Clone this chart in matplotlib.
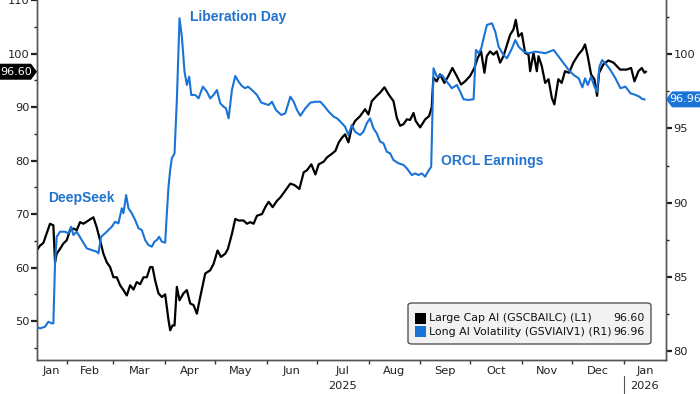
import numpy as np
import matplotlib
matplotlib.use('Agg')
import matplotlib.pyplot as plt
from matplotlib.patches import Polygon, FancyBboxPatch, Rectangle
from matplotlib.transforms import IdentityTransform

plt.rcParams['font.family'] = ['DejaVu Sans']

# ---------------- data (x = days since 2025-01-01) ----------------
lc_days = [13.1, 15.1, 17.1, 19.1, 21.1, 23.1, 24.1, 25.1, 27.1, 29.1, 31.1, 33.1, 35.1, 37.1,
           39.1, 41.1, 44.1, 47.1, 49.1, 51.1, 53.1, 55.1, 57.1, 59.1, 61.1, 63.1, 65.1, 67.1,
           69.1, 71.1, 73.1, 75.1, 77.1, 79.1, 81.1, 82.5, 84.1, 86.1, 88.1, 90.1, 92.1, 93.1,
           94.5, 95.7, 97.1, 98.7, 101.1, 103.1, 105.1, 107.1, 109.1, 111.1, 114.1, 117.1,
           119.1, 121.5, 123.5, 126.1, 127.7, 130.1, 132.1, 134.1, 137.1, 139.1, 141.1, 143.1,
           145.1, 148.1, 150.1, 152.1, 154.5, 157.1, 159.1, 162.1, 165.1, 167.7, 170.5, 173.1,
           175.1, 177.7, 180.1, 182.1, 185.1, 187.1, 189.7, 192.1, 194.1, 196.1,
           197.9, 199.9, 201.9, 203.9, 206.9, 209.9, 211.9, 213.9, 216.9, 218.9, 221.5, 223.9,
           226.9, 228.9, 230.9, 232.9, 234.9, 236.9, 238.9, 240.2, 242.9, 245.9, 248.2, 249.8,
           250.8, 252.8, 254.8, 257.4, 259.8, 262.2, 264.8, 267.4, 269.8, 272.8, 275.4, 277.4,
           279.4, 281.4, 282.8, 284.8, 286.8, 288.8, 290.8, 292.8, 294.8, 296.8, 298.8, 300.2,
           301.8, 303.8, 305.8, 307.8, 308.8, 310.8, 312.8, 313.8, 315.8, 317.8, 319.8, 321.8,
           323.3, 325.7, 327.7, 329.7, 332.1, 334.7, 337.7, 340.1, 341.7, 343.3, 345.3, 347.3,
           348.9, 350.1, 352.7, 355.7, 358.7, 362.7, 366.7, 369.3, 371.3, 373.7, 375.7, 377.3,
           378.1]
lc_vals = [63.2, 64.1, 64.6, 66.4, 68.2, 67.9, 61.0, 62.6, 63.5, 64.5, 65.1, 67.0, 67.3, 67.0,
           68.5, 68.2, 68.8, 69.4, 67.5, 65.1, 62.6, 61.0, 60.1, 58.2, 58.2, 56.7, 55.8, 54.8,
           56.7, 55.9, 57.3, 56.9, 58.2, 58.2, 60.1, 60.1, 57.6, 55.2, 54.5, 55.0, 50.2, 48.3,
           49.2, 49.2, 56.4, 53.9, 55.2, 55.8, 53.3, 53.0, 51.4, 54.5, 58.9, 59.5,
           60.7, 63.2, 62.0, 62.6, 63.5, 66.3, 69.1, 68.8, 68.8, 68.2, 68.5, 68.2,
           69.7, 70.0, 71.3, 72.3, 71.3, 72.5, 73.1, 74.4, 75.7, 75.4, 74.7, 77.8,
           78.2, 79.3, 77.4, 79.3, 79.8, 80.6, 81.2, 81.8, 83.4, 84.3,
           84.9, 83.4, 86.2, 87.4, 88.3, 89.6, 88.6, 91.1, 92.1, 92.7, 93.7, 92.4,
           91.1, 88.0, 86.5, 86.8, 87.7, 87.6, 88.9, 87.4, 86.2, 87.7, 88.3, 89.9,
           95.5, 94.8, 96.1, 94.5, 95.8, 97.3, 95.8, 94.2, 94.8, 95.8, 97.3, 99.2,
           100.4, 96.4, 99.5, 100.4, 99.8, 100.4, 98.3, 99.5, 101.5, 103.5, 104.5, 106.3,
           103.2, 103.8, 100.1, 99.8, 96.7, 100.1, 96.7, 99.5, 97.6, 94.5, 95.2, 91.7,
           90.5, 95.2, 94.5, 96.7, 96.4, 98.3, 99.8, 100.7, 101.7, 99.5, 96.1, 95.2,
           92.1, 96.4, 98.0, 98.7, 98.3, 97.0, 97.0, 97.3, 94.8, 96.7, 97.3, 96.4,
           96.6]

vol_days = [13.1, 15.1, 18.1, 20.1, 22.1, 23.1, 24.1, 25.1, 27.1, 30.1, 32.1, 33.7, 35.1, 37.1,
            40.1, 43.1, 46.1, 49.1, 50.1, 51.7, 54.1, 56.1, 58.1, 60.1, 62.1, 64.1, 65.1, 66.7,
            68.1, 70.1, 72.1, 74.1, 76.1, 78.1, 80.1, 82.1, 83.7, 85.1, 86.5, 88.1, 90.1, 91.1,
            92.1, 93.1, 94.1, 95.7, 97.1, 98.7, 100.1, 101.7, 103.1, 104.5, 105.7, 108.1, 110.1,
            112.7, 115.1, 117.1, 119.1, 121.1, 123.1, 125.1, 126.5, 128.1, 130.1, 132.1, 134.1,
            136.1, 138.1, 139.7, 142.1, 145.1, 147.7, 150.1, 152.1, 154.1, 156.5, 159.7, 162.1,
            165.1, 167.1, 169.1, 171.1, 174.1, 177.1, 180.1, 183.1, 185.7, 188.1, 191.1, 193.1,
            195.1, 197.9, 199.9, 201.9, 203.9, 206.9, 208.9, 210.9, 212.9, 214.9, 216.9, 218.9,
            220.9, 222.9, 224.9, 226.9, 229.9, 232.9, 234.9, 237.9, 239.9, 241.9, 243.9, 245.9,
            247.5, 249.5, 250.9, 252.9, 255.9, 258.9, 261.9, 264.9, 266.9, 268.9, 271.9, 274.9,
            276.3, 277.9, 279.5, 280.9, 282.9, 285.9, 287.9, 289.9, 292.9, 294.9, 297.9, 299.9,
            301.9, 304.9, 307.9, 311.9, 314.9, 317.9, 320.3, 322.9, 325.9, 328.9, 331.9, 334.9,
            337.9, 340.1, 341.7, 343.3, 345.3, 347.3, 348.9, 350.3, 351.9, 353.9, 356.9, 359.9,
            362.9, 365.9, 368.9, 371.9, 374.3, 375.9, 377.3]
vol_vals = [81.63, 81.52, 81.63, 81.97, 81.86, 81.86, 85.91, 87.70, 88.04, 88.04, 87.93, 88.37,
            87.82, 88.04, 87.48, 86.92, 86.80, 86.69, 86.58, 87.70, 87.93, 88.15, 88.37, 88.71,
            88.60, 89.62, 89.28, 90.51, 89.62, 89.28, 88.83, 88.27, 88.15, 87.48, 87.14, 87.03,
            87.37, 87.48, 87.70, 87.37, 87.30, 89.28, 91.07, 92.20, 92.99, 93.32, 96.92, 102.43,
            101.19, 98.83, 97.93, 98.49, 97.26, 97.26, 97.03, 97.82, 97.48, 97.03, 97.26, 97.59,
            96.70, 96.47, 96.36, 95.68, 97.59, 98.54, 98.15, 97.86, 97.71, 97.82, 97.59, 97.26,
            96.74, 96.65, 96.58, 96.80, 96.24, 95.91, 96.02, 97.14, 96.80, 96.24, 95.86, 96.36,
            96.74, 96.80, 96.80, 96.47, 96.13, 95.79, 95.68, 95.46,
            95.12, 94.56, 95.23, 94.78, 94.56, 94.78, 95.35, 95.68, 95.01, 94.67, 94.11,
            94.00, 93.43, 93.32, 92.87, 92.65, 92.54, 92.31, 91.86, 91.97, 91.86, 91.97, 91.75,
            92.08, 92.42, 99.06, 98.49, 98.60, 98.15, 97.71, 97.93, 97.48, 96.97, 96.92, 96.97,
            100.29, 100.07, 100.40, 101.08, 101.98, 102.09, 101.52, 100.51, 99.95, 99.73, 100.40,
            100.96, 100.51, 100.18, 100.07, 100.18, 100.13, 100.07, 100.18, 100.29, 99.84, 99.39,
            98.94, 98.60, 98.38, 97.77, 98.38, 97.93, 98.49, 97.82, 97.48, 99.16, 99.61, 99.39,
            98.94, 98.38, 97.71, 97.82, 97.37, 97.26, 97.14, 96.99, 96.96]

month_labels = ['Jan', 'Feb', 'Mar', 'Apr', 'May', 'Jun', 'Jul', 'Aug', 'Sep', 'Oct', 'Nov',
                'Dec', 'Jan']
year_labels = ['2025', '2026']
left_ticks = [50, 60, 70, 80, 90, 100, 110]
right_ticks = [80, 85, 90, 95, 100]
lc_last = 96.60
vol_last = 96.96
lc_name = 'Large Cap AI (GSCBAILC) (L1)'
vol_name = 'Long AI Volatility (GSVIAIV1) (R1)'
events = ['DeepSeek', 'Liberation Day', 'ORCL Earnings']

BLUE = '#1a73d6'
TXT_BLUE = '#2273cc'

# ---------------- figure ----------------
W, H = 700, 394
fig = plt.figure(figsize=(7.0, 3.94), dpi=100)
ax = fig.add_axes([37 / W, 1 - 360 / H, (666 - 37) / W, 360 / H])
ax2 = ax.twinx()

ax.plot(lc_days, lc_vals, color='black', lw=1.6, zorder=3)
ax2.plot(vol_days, vol_vals, color=BLUE, lw=1.5, zorder=3)

xmin, xmax = 13.3, 390.2
ax.set_xlim(xmin, xmax)
ax.set_ylim(42.74, 109.73)
ax2.set_ylim(79.39, 103.66)

# month ticks
month_starts = (np.arange('2025-01', '2026-03', dtype='datetime64[M]').astype('datetime64[D]')
                - np.datetime64('2025-01-01')).astype(int)
ax.set_xticks([m for m in month_starts if xmin < m < xmax])
ax.set_xticklabels([])
centers = []
for i in range(len(month_labels)):
    a = max(month_starts[i], xmin)
    b = min(month_starts[i + 1], xmax)
    centers.append((a + b) / 2)
ax.set_xticks(centers, minor=True)
ax.set_xticklabels(month_labels, minor=True)
ax.tick_params(axis='x', which='major', direction='out', length=3, width=1, color='#333333')
ax.tick_params(axis='x', which='minor', length=0, pad=4, labelsize=8.2, labelcolor='#222222')

# y ticks
ax.set_yticks(left_ticks)
ax.set_yticks(np.arange(45, 111, 5), minor=True)
ax.tick_params(axis='y', which='major', direction='out', length=4, width=1.6, color='#222222',
               labelsize=8.2, labelcolor='#222222', pad=1.5)
ax.tick_params(axis='y', which='minor', direction='out', length=2.5, width=1, color='#222222')
ax2.set_yticks(right_ticks)
ax2.set_yticks(np.arange(80, 103.7, 2.5), minor=True)
ax2.tick_params(axis='y', which='major', direction='out', length=4, width=1.6, color='#222222',
                labelsize=8.2, labelcolor='#222222', pad=1.5)
ax2.tick_params(axis='y', which='minor', direction='out', length=2.5, width=1, color='#222222')

for a in (ax, ax2):
    a.spines['top'].set_visible(False)
    for s in ('left', 'right', 'bottom'):
        a.spines[s].set_color('#555555')
        a.spines[s].set_linewidth(1.0)

# year labels
xt = ax.get_xaxis_transform()
ax.text(centers[6], -0.058, year_labels[0], transform=xt, ha='center', va='top', fontsize=8.2,
        color='#222222')
ax.text(centers[12], -0.058, year_labels[1], transform=xt, ha='center', va='top', fontsize=8.2,
        color='#222222')
ax.plot([month_starts[12], month_starts[12]], [-0.045, -0.095], transform=xt, color='#555555',
        lw=0.8, clip_on=False)

# event annotations
fam = ['Liberation Sans', 'DejaVu Sans']
ax.text(19.9, 73.1, events[0], color=TXT_BLUE, fontsize=10, fontweight='bold', va='center',
        ha='left', family=fam)
ax.text(105.0, 106.9, events[1], color=TXT_BLUE, fontsize=10, fontweight='bold', va='center',
        ha='left', family=fam)
ax.text(255.4, 79.95, events[2], color=TXT_BLUE, fontsize=10, fontweight='bold', va='center',
        ha='left', family=fam)

# legend box (figure pixels, top-left origin converted)
def fx(x):
    return x / W

def fy(y):
    return 1 - y / H

fig.patches.append(FancyBboxPatch((fx(408), fy(344)), fx(651) - fx(408), fy(303) - fy(344),
                                  boxstyle='round,pad=0,rounding_size=0.006',
                                  transform=fig.transFigure, facecolor='#f2f2f2',
                                  edgecolor='#555555', lw=1.0, zorder=5))
for (yy, col, name, val) in [(318.3, 'black', lc_name, lc_last), (331.7, BLUE, vol_name, vol_last)]:
    fig.patches.append(Rectangle((fx(415), fy(yy + 5.5)), fx(11), 11 / H, transform=fig.transFigure,
                                 facecolor=col, edgecolor='none', zorder=6))
    fig.text(fx(429), fy(yy), name, fontsize=7.9, va='center', ha='left', color='#111111',
             zorder=7)
    fig.text(fx(645), fy(yy), f'{val:.2f}', fontsize=7.9, va='center', ha='right',
             color='#111111', zorder=7)

# value tags on the axes
fig.canvas.draw()
yl = ax.transData.transform((0, lc_last))[1]
yr = ax2.transData.transform((0, vol_last))[1]
hh = 8
tagL = Polygon([(0, yl - hh), (31, yl - hh), (37, yl), (31, yl + hh), (0, yl + hh)],
               closed=True, transform=IdentityTransform(), facecolor='black', edgecolor='none',
               zorder=10)
tagR = Polygon([(666, yr), (672, yr - hh), (700, yr - hh), (700, yr + hh), (672, yr + hh)],
               closed=True, transform=IdentityTransform(), facecolor=BLUE, edgecolor='none',
               zorder=10)
fig.add_artist(tagL)
fig.add_artist(tagR)
fig.text(16 / W, yl / H, f'{lc_last:.2f}', color='white', fontsize=8, ha='center', va='center',
         zorder=11)
fig.text(685 / W, yr / H, f'{vol_last:.2f}', color='white', fontsize=8, ha='center', va='center',
         zorder=11)

fig.savefig('out.png', dpi=100)
